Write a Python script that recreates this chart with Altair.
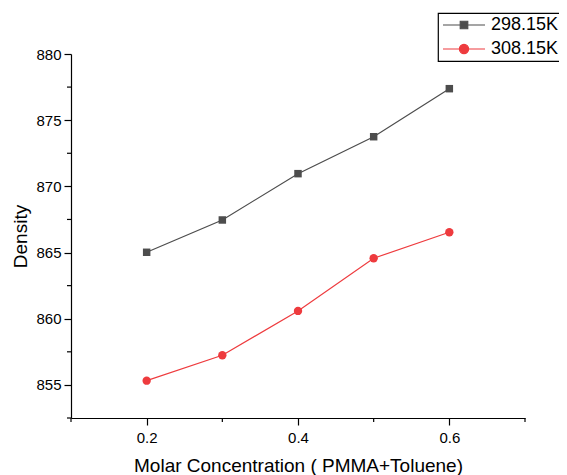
import altair as alt
import pandas as pd

# ---- data ----
conc = [0.2, 0.3, 0.4, 0.5, 0.6]
density_298 = [865.02, 867.46, 870.96, 873.75, 877.38]
density_308 = [855.32, 857.24, 860.59, 864.57, 866.53]
series_names = ["298.15K", "308.15K"]
series_colors = ["#4d4d4d", "#ee3b3e"]
x_major = [0.2, 0.4, 0.6]
x_minor = [0.1, 0.3, 0.5, 0.7]
y_major = [855, 860, 865, 870, 875, 880]
y_minor = [852.5, 857.5, 862.5, 867.5, 872.5, 877.5]
x_title = "Molar Concentration ( PMMA+Toluene)"
y_title = "Density"

df = pd.DataFrame({
    "conc": conc * 2,
    "density": density_298 + density_308,
    "series": [series_names[0]] * len(conc) + [series_names[1]] * len(conc),
})
xminor_df = pd.DataFrame({"conc": x_minor})
yminor_df = pd.DataFrame({"density": y_minor})

W, H = 454, 364
FONT = "Liberation Sans"

# legend symbols: a line with the marker in the middle
legend_paths = [
    "M-1,0H5M1.464,-0.536H2.536V0.536H1.464Z",
    "M-1,0H5M1.34,0A0.66,0.66,0,1,1,2.66,0A0.66,0.66,0,1,1,1.34,0Z",
]


def leg():
    return alt.Legend(title=None, orient="none", legendX=367, legendY=-41)


x = alt.X("conc:Q",
          scale=alt.Scale(domain=[0.1, 0.7], nice=False, zero=False),
          axis=alt.Axis(values=x_major, format=".1f", title=x_title,
                        labelPadding=5, titlePadding=11))
y = alt.Y("density:Q",
          scale=alt.Scale(domain=[852.5, 880], nice=False, zero=False),
          axis=alt.Axis(values=y_major, format="d", title=y_title,
                        labelPadding=3, titlePadding=5))

base = alt.Chart(df)
layers = []
for name, col in zip(series_names, series_colors):
    sub = base.transform_filter(alt.datum.series == name)
    layers.append(sub.mark_line(strokeWidth=1.2, color=col).encode(x=x, y=y))
layers.append(base.transform_filter(alt.datum.series == series_names[0])
              .mark_square(size=56, opacity=1, color=series_colors[0])
              .encode(x=x, y=y))
layers.append(base.transform_filter(alt.datum.series == series_names[1])
              .mark_circle(size=70, opacity=1, color=series_colors[1])
              .encode(x=x, y=y))

xminor = alt.Chart(xminor_df).mark_rule(color="black", strokeWidth=1.2).encode(
    x=x, y=alt.value(H), y2=alt.value(H + 4))
yminor = alt.Chart(yminor_df).mark_rule(color="black", strokeWidth=1.2).encode(
    y=y, x=alt.value(0), x2=alt.value(-4))

# legend-only layer: its points are moved outside the domain and clipped away
legend_layer = base.transform_calculate(conc="-1").mark_point(
    opacity=1, filled=True, clip=True
).encode(
    x=x, y=y,
    fill=alt.Fill("series:N",
                  scale=alt.Scale(domain=series_names, range=series_colors),
                  legend=leg()),
    stroke=alt.Stroke("series:N",
                      scale=alt.Scale(domain=series_names, range=series_colors),
                      legend=leg()),
    shape=alt.Shape("series:N",
                    scale=alt.Scale(domain=series_names, range=legend_paths),
                    legend=leg()),
)

chart = alt.layer(*layers, xminor, yminor, legend_layer).properties(
    width=W, height=H,
    autosize="none",
    padding={"left": 63, "top": 46, "right": 34, "bottom": 57},
).configure_view(stroke=None).configure_axis(
    grid=False,
    domainColor="black", domainWidth=1.2,
    tickColor="black", tickWidth=1.2, tickSize=7,
    labelFont=FONT, labelFontSize=15, labelColor="black",
    titleFont=FONT, titleFontSize=19, titleFontWeight="normal", titleColor="black",
).configure_legend(
    padding=3, strokeColor="black", strokeWidth=1.2, fillColor="white",
    cornerRadius=0,
    labelFont=FONT, labelFontSize=18, labelColor="black",
    symbolSize=196, symbolStrokeWidth=1.2, symbolOpacity=1,
    labelOffset=32, rowPadding=6,
)

chart.save("out.html", embed_options={"renderer": "svg", "actions": False})
